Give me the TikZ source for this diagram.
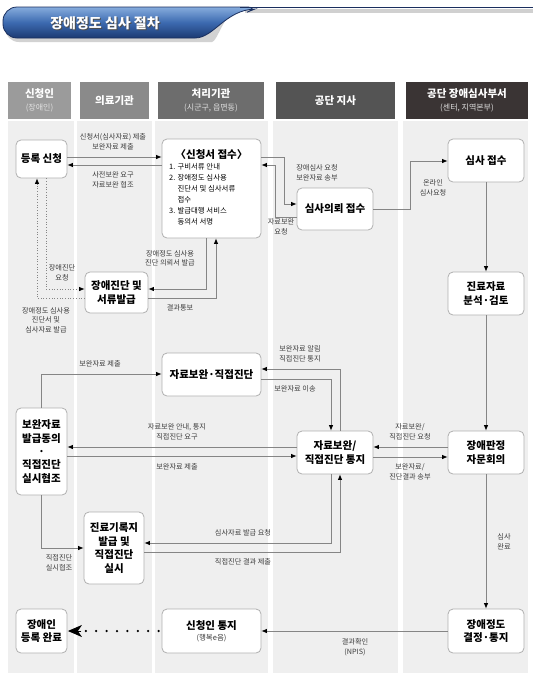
\documentclass[tikz,border=0pt]{standalone}
\usepackage{fontspec}
\setmainfont{Noto Sans CJK KR}
\usetikzlibrary{arrows.meta}
\definecolor{lane}{HTML}{EFEFEF}
\definecolor{conn}{HTML}{858585}
\definecolor{boxline}{HTML}{B0B0B0}
\definecolor{lbltext}{HTML}{3C3C3C}
\definecolor{hA}{HTML}{9B9B9B}
\definecolor{hB}{HTML}{8A8A8A}
\definecolor{hC}{HTML}{6D6D6D}
\definecolor{hD}{HTML}{545454}
\definecolor{hE}{HTML}{3A3434}
\definecolor{bnTop}{HTML}{86ACDD}
\definecolor{bnMid}{HTML}{3C6AB0}
\definecolor{bnBot}{HTML}{1C3A72}
\definecolor{bnLine}{HTML}{1A2F5E}
\tikzset{
  box/.style={draw=boxline, fill=white, rounded corners=5pt, line width=0.8pt,
    font=\fontsize{10.5}{13.4}\selectfont\bfseries, align=center, inner sep=0pt},
  lbl/.style={font=\fontsize{7.2}{9.6}\selectfont, text=lbltext, align=center, inner sep=0pt},
  arr/.style={draw=conn, line width=0.75pt, -{Latex[length=5.5pt,width=4.5pt,black]}},
  darr/.style={draw=conn, line width=0.7pt, dotted, -{Latex[length=5.5pt,width=4.5pt,black]}},
}
\begin{document}
\begin{tikzpicture}[x=1pt,y=-1pt]
\useasboundingbox (0,0) rectangle (536,678);
\fill[white] (0,0) rectangle (536,678);

% ---- title banner ----
\fill[black!30, opacity=0.6] (245,9) rectangle (533,12.5);
\fill[black!35, opacity=0.5, rounded corners=14pt]
  (5,11) -- (250,11) .. controls (225,12) and (217,42) .. (198,42) -- (5,42) -- cycle;
\shade[top color=bnTop, bottom color=bnBot, middle color=bnMid, draw=bnLine, line width=0.8pt, rounded corners=14pt]
  (3,7) -- (260,7) [sharp corners] -- (255,9) .. controls (225,10) and (214,38) .. (195,38) [rounded corners=14pt] -- (3,38) -- cycle;
\draw[bnLine, line width=1.3pt] (240,7.5) -- (533,7.5);
\node[text=black!70, font=\fontsize{14}{16}\selectfont\bfseries] (titlesh) at (106,24) {장애정도 심사 절차};
\node[text=white, font=\fontsize{14}{16}\selectfont\bfseries] (title) at (105,23) {장애정도 심사 절차};

% ---- lanes ----
\fill[lane] (8,121) rectangle (74,673);
\fill[lane] (77,121) rectangle (152,673);
\fill[lane] (155,121) rectangle (268,673);
\fill[lane] (273,121) rectangle (398,673);
\fill[lane] (403,121) rectangle (528,673);

% ---- headers ----
\fill[hA] (8,82) rectangle (71,119);
\fill[hB] (80,82) rectangle (149,119);
\fill[hC] (158,82) rectangle (264,119);
\fill[hD] (276,82) rectangle (395,119);
\fill[hE] (406,82) rectangle (528,119);
\node[text=white, font=\fontsize{10.5}{12}\selectfont\bfseries] (h1a) at (39.5,94) {신청인};
\node[text=white!88!black, font=\fontsize{8}{10}\selectfont] (h1b) at (39.5,108) {(장애인)};
\node[text=white, font=\fontsize{10.5}{12}\selectfont\bfseries] (h2a) at (114.5,101) {의료기관};
\node[text=white, font=\fontsize{10.5}{12}\selectfont\bfseries] (h3a) at (211,94) {처리기관};
\node[text=white!88!black, font=\fontsize{8}{10}\selectfont] (h3b) at (211,108) {(시군구, 읍면동)};
\node[text=white, font=\fontsize{10.5}{12}\selectfont\bfseries] (h4a) at (335.5,101) {공단 지사};
\node[text=white, font=\fontsize{10.5}{12}\selectfont\bfseries] (h5a) at (467,94) {공단 장애심사부서};
\node[text=white!88!black, font=\fontsize{8}{10}\selectfont] (h5b) at (467,108) {(센터, 지역본부)};

% ---- boxes ----
\node[box, minimum width=51pt, minimum height=38pt] (reg) at (41.5,159) {등록 신청};
\node[box, minimum width=99pt, minimum height=99pt] (recv) at (211.5,188.5) {};
\node[font=\fontsize{10.5}{12}\selectfont\bfseries, inner sep=0pt] (recvt) at (211.5,155) {〈신청서 접수〉};
\node[font=\fontsize{7.4}{10.9}\selectfont, align=left, anchor=north west, inner sep=0pt] (recvl) at (169,163.5)
  {1. 구비서류 안내\\2. 장애정도 심사용\\\hphantom{2. }진단서 및 심사서류\\\hphantom{2. }접수\\3. 발급대행 서비스\\\hphantom{3. }동의서 서명};
\node[box, minimum width=63pt, minimum height=41pt] (diag) at (116.5,292.5) {장애진단 및\\서류발급};
\node[box, minimum width=76pt, minimum height=42pt] (req) at (335,209) {심사의뢰 접수};
\node[box, minimum width=76pt, minimum height=43pt] (rev) at (486,160.5) {심사 접수};
\node[box, minimum width=76pt, minimum height=43pt] (anal) at (486,293.5) {진료자료\\분석·검토};
\node[box, minimum width=99pt, minimum height=43pt] (supp) at (211.5,374.5) {자료보완·직접진단};
\node[box, minimum width=51pt, minimum height=87pt] (agree) at (41.5,451.5) {보완자료\\발급동의\\·\\직접진단\\실시협조};
\node[box, minimum width=76pt, minimum height=43pt] (noti) at (335,452.5) {자료보완/\\직접진단 통지};
\node[box, minimum width=76pt, minimum height=43pt] (conf) at (486,452.5) {장애판정\\자문회의};
\node[box, minimum width=60pt, minimum height=72pt] (rec) at (114,548) {진료기록지\\발급 및\\직접진단\\실시};
\node[box, minimum width=51pt, minimum height=44pt] (done) at (41.5,631) {장애인\\등록 완료};
\node[box, minimum width=99pt, minimum height=44pt] (appn) at (211.5,631) {신청인 통지\\[-2pt]{\fontsize{7.5}{9}\selectfont\mdseries\color{lbltext}(행복e음)}};
\node[box, minimum width=76pt, minimum height=44pt] (dec) at (486,631) {장애정도\\결정·통지};

% ---- connectors ----
\draw[arr] (reg.east |- 0,157) -- (recv.west |- 0,157);
\draw[arr] (recv.west |- 0,165) -- (reg.east |- 0,165);
\draw[arr] (recv.east |- 0,157) -| (284,204) -- (req.west |- 0,204);
\draw[arr] (req.west |- 0,217) -| (275,165) -- (recv.east |- 0,165);
\draw[arr] (req.east |- 0,209) -| (410,161) -- (rev.west |- 0,161);
\draw[arr] (rev.south) -- (anal.north);
\draw[arr] (anal.south) -- (conf.north);
\draw[arr] (conf.south) -- (dec.north);
\draw[arr] (dec.west) -- (appn.east);
\draw[arr] (recv.south -| 206,0) |- (diag.east |- 0,289);
\draw[arr] (diag.east |- 0,298) -| (recv.south -| 216,0);
\draw[darr] (reg.south -| 46,0) |- (diag.west |- 0,289);
\draw[darr] (diag.west |- 0,298) -| (reg.south -| 37,0);
\draw[arr] (agree.north -| 41,0) |- (supp.west |- 0,374);
\draw[arr] (noti.north -| 340,0) |- (supp.east |- 0,369);
\draw[arr] (supp.east |- 0,379) -| (noti.north -| 331,0);
\draw[arr] (noti.west |- 0,447) -- (agree.east |- 0,447);
\draw[arr] (agree.east |- 0,456) -- (noti.west |- 0,456);
\draw[arr] (conf.west |- 0,447) -- (noti.east |- 0,447);
\draw[arr] (noti.east |- 0,457) -- (conf.west |- 0,457);
\draw[arr] (agree.south -| 41,0) |- (rec.west |- 0,548);
\draw[arr] (noti.south -| 331,0) |- (rec.east |- 0,543);
\draw[arr] (rec.east |- 0,552) -| (noti.south -| 340,0);
% dotted big arrow
\draw[black, line width=2.5pt, line cap=round, dash pattern=on 0pt off 10.4pt]
  ([xshift=-3pt]appn.west) -- ([xshift=18pt]done.east);
\draw[black, line width=1pt, -{Stealth[length=14pt,width=12pt,inset=4pt]}]
  ([xshift=14pt]done.east) -- ([xshift=0.5pt]done.east);

% ---- labels ----
\node[lbl] (l1) at (113,141.5) {신청서(심사자료) 제출\\보완자료 제출};
\node[lbl] (l2) at (113,180) {사전보완 요구\\자료보완 협조};
\node[lbl] (l3) at (317,173) {장애심사 요청\\보완자료 송부};
\node[lbl] (l4) at (281,227) {자료보완\\요청};
\node[lbl] (l5) at (433,187.5) {온라인\\심사요청};
\node[lbl] (l6) at (170,258.5) {장애정도 심사용\\진단 의뢰서 발급};
\node[lbl] (l7) at (180,308) {결과통보};
\node[lbl] (l8) at (62,273) {장애진단\\요청};
\node[lbl] (l9) at (46,320) {장애정도 심사용\\진단서 및\\심사자료 발급};
\node[lbl] (l10) at (100,364) {보완자료 제출};
\node[lbl] (l11) at (300,354) {보완자료 알림\\직접진단 통지};
\node[lbl] (l12) at (295,389) {보완자료 이송};
\node[lbl] (l13) at (177,432) {자료보완 안내, 통지\\직접진단 요구};
\node[lbl] (l14) at (177,467) {보완자료 제출};
\node[lbl] (l15) at (410,432) {자료보완/\\직접진단 요청};
\node[lbl] (l16) at (410,472) {보완자료/\\진단결과 송부};
\node[lbl] (l17) at (59,562.5) {직접진단\\실시협조};
\node[lbl] (l18) at (243,533) {심사자료 발급 요청};
\node[lbl] (l19) at (243,562) {직접진단 결과 제출};
\node[lbl] (l20) at (504,542) {심사\\완료};
\node[lbl] (l21) at (355,647) {결과확인\\(NPIS)};
\end{tikzpicture}
\end{document}
